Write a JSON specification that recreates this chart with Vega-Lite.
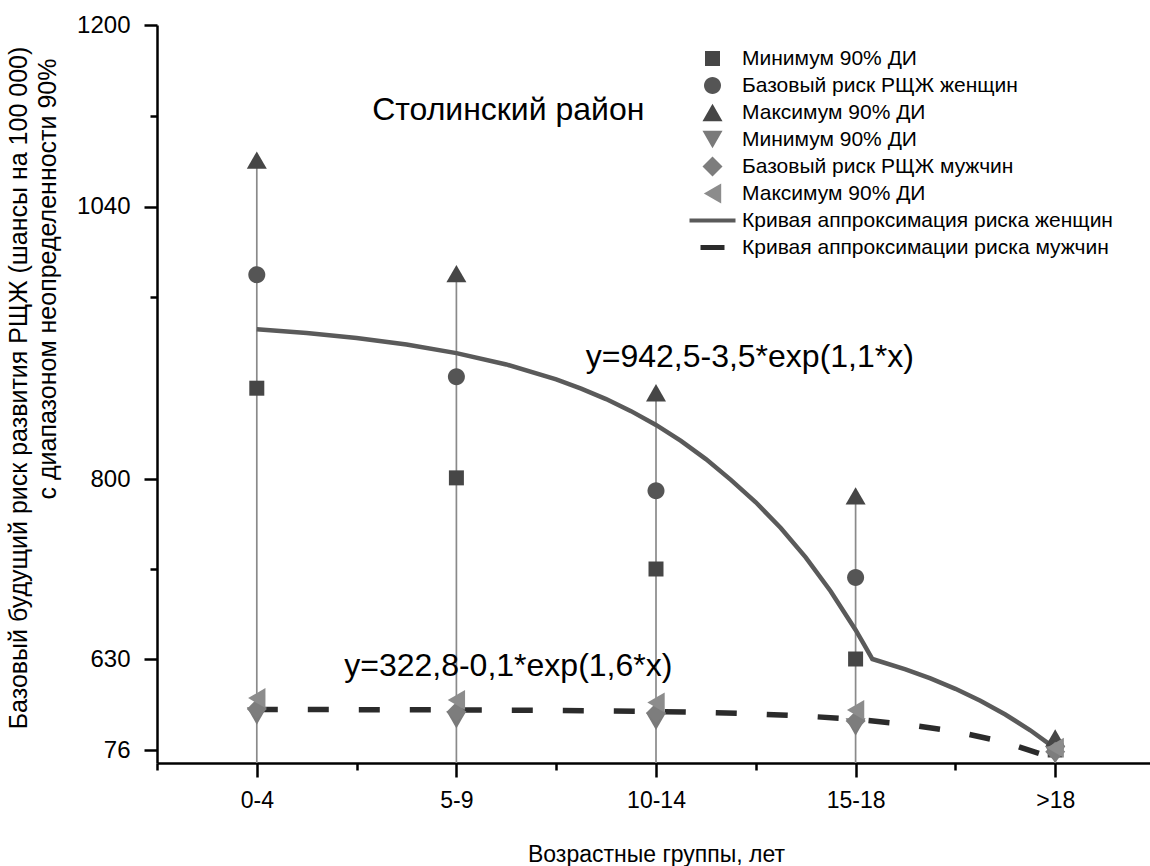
{
  "$schema": "https://vega.github.io/schema/vega-lite/v6.json",
  "width": 998,
  "height": 738,
  "autosize": "none",
  "padding": {"left": 157, "top": 25, "right": 0, "bottom": 103},
  "background": "white",
  "config": {"font": "Liberation Sans", "view": {"stroke": null}, "axis": {"grid": false}},
  "title": {"text": "Базовый будущий риск развития РЩЖ (шансы на 100 000)", "orient": "left", "anchor": "middle", "frame": "group", "dx": 6, "fontSize": 25, "fontWeight": "normal", "font": "Liberation Sans", "color": "black", "offset": 3},
  "resolve": {"axis": {"x": "independent", "y": "independent"}},
  "datasets": {
    "points": [
      {"x": 1, "y": 880, "series": "fmin"}, {"x": 2, "y": 801, "series": "fmin"}, {"x": 3, "y": 715, "series": "fmin"}, {"x": 4, "y": 630, "series": "fmin"}, {"x": 5, "y": 76, "series": "fmin"},
      {"x": 1, "y": 980, "series": "f"}, {"x": 2, "y": 890, "series": "f"}, {"x": 3, "y": 789, "series": "f"}, {"x": 4, "y": 707, "series": "f"}, {"x": 5, "y": 100, "series": "f"},
      {"x": 1, "y": 1081, "series": "fmax"}, {"x": 2, "y": 981, "series": "fmax"}, {"x": 3, "y": 876, "series": "fmax"}, {"x": 4, "y": 784, "series": "fmax"}, {"x": 5, "y": 149, "series": "fmax"},
      {"x": 1, "y": 283, "series": "mmin"}, {"x": 2, "y": 260, "series": "mmin"}, {"x": 3, "y": 250, "series": "mmin"}, {"x": 4, "y": 216, "series": "mmin"}, {"x": 5, "y": 48, "series": "mmin"},
      {"x": 1, "y": 326, "series": "m"}, {"x": 2, "y": 307, "series": "m"}, {"x": 3, "y": 301, "series": "m"}, {"x": 4, "y": 252, "series": "m"}, {"x": 5, "y": 66, "series": "m"},
      {"x": 1, "y": 392, "series": "mmax"}, {"x": 2, "y": 380, "series": "mmax"}, {"x": 3, "y": 365, "series": "mmax"}, {"x": 4, "y": 320, "series": "mmax"}, {"x": 5, "y": 90, "series": "mmax"}
    ],
    "fcurve": [
      {"x": 1.0, "y": 931.99}, {"x": 1.25, "y": 928.66}, {"x": 1.5, "y": 924.28}, {"x": 1.75, "y": 918.51},
      {"x": 2.0, "y": 910.91}, {"x": 2.25, "y": 900.92}, {"x": 2.5, "y": 887.75}, {"x": 2.625, "y": 879.68},
      {"x": 2.75, "y": 870.42}, {"x": 2.875, "y": 859.79}, {"x": 3.0, "y": 847.6}, {"x": 3.125, "y": 833.61},
      {"x": 3.25, "y": 817.56}, {"x": 3.375, "y": 799.17}, {"x": 3.5, "y": 778.02}, {"x": 3.625, "y": 753.76},
      {"x": 3.75, "y": 725.95}, {"x": 3.875, "y": 694.04}, {"x": 4.0, "y": 657.42}, {"x": 4.042, "y": 643.9},
      {"x": 4.084, "y": 630}, {"x": 4.25, "y": 567.19}, {"x": 4.375, "y": 511.9}, {"x": 4.5, "y": 448.4},
      {"x": 4.625, "y": 375.6}, {"x": 4.75, "y": 292.05}, {"x": 4.875, "y": 196.1}, {"x": 5.0, "y": 86.08}
    ],
    "mcurve": [
      {"x": 1.0, "y": 322.3}, {"x": 1.5, "y": 321.7}, {"x": 2.0, "y": 320.35}, {"x": 2.5, "y": 317.34},
      {"x": 3.0, "y": 310.65}, {"x": 3.25, "y": 304.67}, {"x": 3.5, "y": 295.76}, {"x": 3.75, "y": 282.46},
      {"x": 4.0, "y": 262.62}, {"x": 4.25, "y": 233.01}, {"x": 4.5, "y": 188.86}, {"x": 4.75, "y": 122.98},
      {"x": 5.0, "y": 24.7}
    ],
    "notes": [
      {"x": 2.26, "y": 1125, "label": "Столинский район", "kind": "title"},
      {"x": 3.47, "y": 907.5, "label": "y=942,5-3,5*exp(1,1*x)", "kind": "eq"},
      {"x": 2.26, "y": 587, "label": "y=322,8-0,1*exp(1,6*x)", "kind": "eq"}
    ]
  },
  "encoding": {
    "x": {"field": "x", "type": "quantitative", "scale": {"domain": [0.5, 5.5], "nice": false, "zero": false}, "axis": null},
    "y": {"field": "y", "type": "quantitative", "scale": {"domain": [0, 76, 630, 800, 1200], "range": [738, 725, 634, 454, 0], "nice": false, "zero": false}, "axis": null}
  },
  "layer": [
    {
      "data": {"name": "points"},
      "transform": [{"filter": "datum.series == 'fmax'"}],
      "mark": {"type": "rule", "color": "#8a8a8a", "strokeWidth": 1.7},
      "encoding": {
        "x": {
          "field": "x", "type": "quantitative",
          "scale": {"domain": [0.5, 5.5], "nice": false, "zero": false},
          "axis": {
            "orient": "bottom",
            "values": [1, 2, 3, 4, 5],
            "labelExpr": "datum.value == 1 ? '0-4' : datum.value == 2 ? '5-9' : datum.value == 3 ? '10-14' : datum.value == 4 ? '15-18' : '>18'",
            "tickSize": 14, "tickWidth": 2.5, "tickColor": "black", "domainColor": "black", "domainWidth": 2.5,
            "labelFontSize": 23, "labelColor": "black", "labelPadding": 12, "labelFlush": false,
            "title": "Возрастные группы, лет", "titleFontSize": 23, "titleFontWeight": "normal", "titleColor": "black", "titlePadding": 31
          }
        },
        "y": {
          "field": "y", "type": "quantitative",
          "scale": {"domain": [0, 76, 630, 800, 1200], "range": [738, 725, 634, 454, 0], "nice": false, "zero": false},
          "axis": {
            "orient": "left",
            "values": [76, 630, 800, 1040, 1200],
            "format": "d",
            "tickSize": 13, "tickWidth": 2.5, "tickColor": "black", "domainColor": "black", "domainWidth": 2.5,
            "labelFontSize": 24, "labelColor": "black", "labelPadding": 14,
            "title": "с диапазоном неопределенности 90%", "titleFontSize": 25, "titleFontWeight": "normal", "titleColor": "black",
            "titleX": -110, "titleY": 33, "titleAngle": -90, "titleAlign": "right", "titleBaseline": "middle"
          }
        },
        "y2": {"datum": 0}
      }
    },
    {
      "data": {"name": "fcurve"},
      "mark": {"type": "line", "color": "#5a5a5a", "strokeWidth": 4.5},
      "encoding": {
        "x": {
          "field": "x", "type": "quantitative",
          "scale": {"domain": [0.5, 5.5], "nice": false, "zero": false},
          "axis": {"orient": "bottom", "values": [0.5, 1.5, 2.5, 3.5, 4.5], "tickSize": 7, "tickWidth": 2.5, "tickColor": "black", "labels": false, "domain": false, "title": null}
        },
        "y": {
          "field": "y", "type": "quantitative",
          "scale": {"domain": [0, 76, 630, 800, 1200], "range": [738, 725, 634, 454, 0], "nice": false, "zero": false},
          "axis": {"orient": "left", "values": [715, 960, 1120], "tickSize": 7, "tickWidth": 2.5, "tickColor": "black", "labels": false, "domain": false, "title": null}
        }
      }
    },
    {
      "data": {"name": "mcurve"},
      "mark": {"type": "line", "color": "#2b2b2b", "strokeWidth": 5.5, "strokeDash": [21, 30], "strokeCap": "butt"},
      "encoding": {}
    },
    {
      "data": {"name": "points"},
      "mark": {"type": "point", "filled": true, "size": 400, "opacity": 1, "strokeWidth": 0},
      "encoding": {
        "color": {
          "field": "series", "type": "nominal",
          "scale": {
            "domain": ["fmin", "f", "fmax", "mmin", "m", "mmax", "fcurve", "mcurve"],
            "range": ["#464646", "#555555", "#464646", "#7a7a7a", "#7d7d7d", "#8c8c8c", "#5a5a5a", "#2b2b2b"]
          },
          "legend": {
            "title": null, "orient": "none", "legendX": 545, "legendY": 23, "padding": 0,
            "labelExpr": "{'fmin': 'Минимум 90% ДИ', 'f': 'Базовый риск РЩЖ женщин', 'fmax': 'Максимум 90% ДИ', 'mmin': 'Минимум 90% ДИ', 'm': 'Базовый риск РЩЖ мужчин', 'mmax': 'Максимум 90% ДИ', 'fcurve': 'Кривая аппроксимация риска женщин', 'mcurve': 'Кривая аппроксимации риска мужчин'}[datum.value]",
            "labelFontSize": 21, "labelFont": "Liberation Sans", "labelColor": "black", "labelLimit": 0,
            "symbolSize": 400, "symbolStrokeWidth": 0, "rowPadding": 5, "labelOffset": 19
          }
        },
        "shape": {
          "field": "series", "type": "nominal",
          "scale": {
            "domain": ["fmin", "f", "fmax", "mmin", "m", "mmax", "fcurve", "mcurve"],
            "range": [
              "M-0.75,-0.75H0.75V0.75H-0.75Z",
              "M0.85,0A0.85,0.85,0,1,1,-0.85,0A0.85,0.85,0,1,1,0.85,0Z",
              "triangle-up", "triangle-down", "diamond", "triangle-left",
              "M-2.3,-0.2H2.3V0.2H-2.3Z",
              "M-1.2,-0.25H1.2V0.25H-1.2Z"
            ]
          },
          "legend": {
            "title": null, "orient": "none", "legendX": 545, "legendY": 23, "padding": 0,
            "labelExpr": "{'fmin': 'Минимум 90% ДИ', 'f': 'Базовый риск РЩЖ женщин', 'fmax': 'Максимум 90% ДИ', 'mmin': 'Минимум 90% ДИ', 'm': 'Базовый риск РЩЖ мужчин', 'mmax': 'Максимум 90% ДИ', 'fcurve': 'Кривая аппроксимация риска женщин', 'mcurve': 'Кривая аппроксимации риска мужчин'}[datum.value]",
            "labelFontSize": 21, "labelFont": "Liberation Sans", "labelColor": "black", "labelLimit": 0,
            "symbolSize": 400, "symbolStrokeWidth": 0, "rowPadding": 5, "labelOffset": 19
          }
        }
      }
    },
    {
      "data": {"name": "notes"},
      "transform": [{"filter": "datum.kind == 'title'"}],
      "mark": {"type": "text", "fontSize": 32, "font": "Liberation Sans", "color": "black", "align": "center", "baseline": "middle"},
      "encoding": {"text": {"field": "label"}}
    },
    {
      "data": {"name": "notes"},
      "transform": [{"filter": "datum.kind == 'eq'"}],
      "mark": {"type": "text", "fontSize": 32, "font": "Liberation Sans", "color": "black", "align": "center", "baseline": "middle"},
      "encoding": {"text": {"field": "label"}}
    }
  ]
}
